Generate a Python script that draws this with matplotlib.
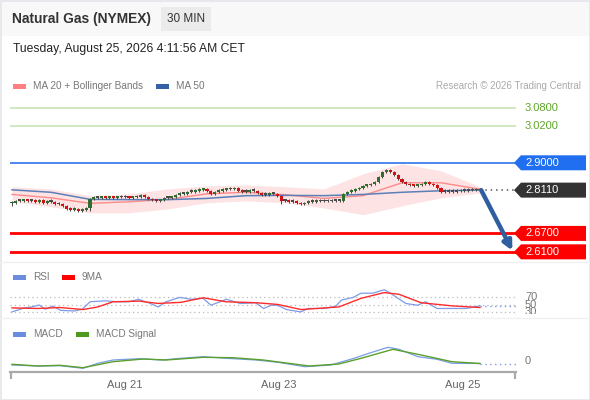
import matplotlib
matplotlib.use('Agg')
import matplotlib.pyplot as plt
import matplotlib.patches as mpatches
from matplotlib.transforms import Bbox, blended_transform_factory

plt.rcParams['font.family'] = ['Liberation Sans', 'DejaVu Sans']

W, H = 590, 400

# ---- price data (30 min candles, closes) ----
closes = [2.770, 2.776, 2.776, 2.778, 2.776, 2.776, 2.773, 2.779, 2.770, 2.773,
          2.773, 2.766, 2.766, 2.760, 2.750, 2.747, 2.750, 2.744, 2.747, 2.753,
          2.783, 2.786, 2.786, 2.788, 2.786, 2.788, 2.786, 2.789, 2.788, 2.789,
          2.786, 2.788, 2.789, 2.796, 2.789, 2.783, 2.779, 2.776, 2.779, 2.786,
          2.786, 2.789, 2.796, 2.799, 2.799, 2.806, 2.806, 2.809, 2.812, 2.815,
          2.809, 2.799, 2.806, 2.809, 2.812, 2.815, 2.815, 2.819, 2.809, 2.806,
          2.806, 2.809, 2.809, 2.802, 2.796, 2.796, 2.799, 2.799, 2.793, 2.776,
          2.776, 2.773, 2.773, 2.770, 2.766, 2.770, 2.773, 2.773, 2.775, 2.775,
          2.776, 2.775, 2.776, 2.776, 2.776, 2.799, 2.806, 2.809, 2.815, 2.819,
          2.825, 2.828, 2.832, 2.838, 2.854, 2.871, 2.877, 2.871, 2.861, 2.848,
          2.838, 2.832, 2.828, 2.825, 2.828, 2.832, 2.835, 2.832, 2.828, 2.819,
          2.806, 2.807, 2.806, 2.806, 2.807, 2.809, 2.809, 2.810, 2.810, 2.812,
          2.811]
first_open = 2.768
long_wicks = {0: 2.760, 69: 2.766, 20: 2.744}

# indicators sampled every 10 candles
ind_idx = [0, 10, 20, 30, 40, 50, 60, 70, 80, 90, 100, 110, 120]
ma20 = [2.797, 2.786, 2.768, 2.773, 2.781, 2.799, 2.804, 2.796, 2.784, 2.793, 2.835, 2.835, 2.814]
ma50 = [2.812, 2.804, 2.781, 2.780, 2.780, 2.784, 2.793, 2.794, 2.793, 2.797, 2.804, 2.809, 2.811]
bb_upper = [2.822, 2.815, 2.793, 2.799, 2.815, 2.825, 2.828, 2.822, 2.815, 2.864, 2.897, 2.874, 2.822]
bb_lower = [2.773, 2.757, 2.737, 2.737, 2.750, 2.770, 2.776, 2.770, 2.753, 2.731, 2.760, 2.786, 2.802]

resistances = [3.08, 3.02]
pivot = 2.90
supports = [2.67, 2.61]
last_price = 2.811

# RSI and its 9 period MA
rsi_idx = [0, 3, 5, 7, 8.5, 10.5, 12.5, 16, 18, 20, 24, 27, 30, 32.5, 35.5, 37.5, 39.5, 43,
           46, 49, 51, 55, 58.5, 62.5, 64.5, 66.5, 68, 70.5, 74, 76, 80, 83, 84.5, 87.5,
           89.5, 92.5, 95.5, 97, 99, 101, 104, 106, 109, 113, 116.5, 120]
rsi_val = [31, 41, 44, 49, 38, 46, 35, 33.5, 38, 57.5, 60, 57.5, 57.5, 64, 53, 44, 57.5, 69,
           64, 66.5, 48.5, 64, 53, 55, 40, 48.5, 48.5, 37, 31, 40, 40, 46, 62, 69,
           80, 80, 89, 80, 66.5, 53, 48.5, 57.5, 40, 40, 40, 47]
rsi_ma_idx = [0, 6.7, 12.3, 18.2, 22, 25.9, 32.6, 37.4, 43.3, 49, 54.9, 62.6, 68.2, 74.1,
              83.8, 89.5, 95.4, 99.2, 104.9, 112.8, 120]
rsi_ma_val = [41.5, 40, 42.5, 37.2, 44, 57.5, 59.3, 53.2, 56, 68, 57.5, 55, 50.5, 37.2,
              44, 66.5, 81.5, 77.2, 55, 46.8, 42.5]

# MACD
macd_idx = [0, 6.7, 12.3, 18.2, 22, 25.9, 32.6, 38.5, 43.3, 49, 54.9, 62.6, 68.2, 75.1,
            81.8, 87.7, 91.5, 96.4, 99.2, 104.1, 109, 112.8, 120]
macd_val = [-0.0040, -0.0050, -0.0047, -0.0073, -0.0023, 0.0010, 0.0023, 0.0010, 0.0027,
            0.0043, 0.0027, 0.0010, -0.0013, -0.0057, -0.0040, 0.0027, 0.0077, 0.0137,
            0.0117, 0.0043, 0.0017, -0.0023, -0.0025]
signal_idx = [0, 6.7, 12.3, 18.2, 25.9, 33.6, 39.5, 49, 56.7, 64.4, 76.2, 83.8, 89.5,
              97.7, 104.9, 112.8, 120]
signal_val = [-0.0033, -0.0050, -0.0043, -0.0067, -0.0007, 0.0020, 0.0010, 0.0037, 0.0033,
              0.0010, -0.0050, -0.0030, 0.0027, 0.0117, 0.0060, -0.0007, -0.0025]

date_ticks = [29.0, 68.5, 115.6]
date_labels = ['Aug 21', 'Aug 23', 'Aug 25']


def box(left, top, right, bottom):
    return [left / W, 1 - bottom / H, (right - left) / W, (bottom - top) / H]


fig = plt.figure(figsize=(W / 100, H / 100), dpi=100)
fig.patch.set_facecolor('white')

x0 = -0.51
x1 = 129.23

# ---------------- main price panel ----------------
ax = fig.add_axes(box(10, 70.8, 516, 262.8))
ax.set_xlim(x0, x1)
ax.set_ylim(2.5743, 3.1997)
ax.axis('off')

ax.fill_between(ind_idx, bb_lower, bb_upper, color='#fde3e3', lw=0, zorder=1)
ax.plot(ind_idx, ma20, color='#ff8a8a', lw=1.0, zorder=2)
ax.plot(ind_idx, ma50, color='#5b7fb8', lw=1.1, zorder=2)

for r in resistances:
    ax.axhline(r, color='#c9e4b6', lw=1.2, zorder=1)
ax.axhline(pivot, color='#2f74ea', lw=1.2, zorder=1)
for s in supports:
    ax.axhline(s, color='#ff0000', lw=2.0, zorder=1)

opens = [first_open] + closes[:-1]
for i, (o, c) in enumerate(zip(opens, closes)):
    lo = min(o, c)
    hi = max(o, c)
    body = max(hi - lo, 0.0045)
    if hi - lo < 0.0015:
        col = '#4a4a4a'
    elif c > o:
        col = '#2f6e2f'
    else:
        col = '#cc1414'
    wick_lo = long_wicks.get(i, lo - 0.003)
    ax.vlines(i, wick_lo, lo + body + 0.003, color='#444444', lw=0.7, zorder=3)
    ax.bar(i, body, bottom=lo, width=0.8, color=col, lw=0, zorder=4)

n_last = len(closes) - 1
ax.plot([n_last, x1], [last_price, last_price], color='#555555', lw=1.1,
        ls=(0, (1, 2.5)), zorder=2, clip_on=False)

ax.annotate('', xy=(128.3, supports[1] + 0.004), xytext=(n_last + 0.3, last_price),
            arrowprops=dict(arrowstyle='-|>', color='#2f5f9f', lw=3.2,
                            mutation_scale=13, shrinkA=0, shrinkB=0),
            zorder=6, annotation_clip=False)

lab_tr = blended_transform_factory(ax.transAxes, ax.transData)
for r in resistances:
    ax.text((525 - 10) / 506, r, '%.4f' % r, transform=lab_tr, color='#5fa62a',
            fontsize=8, va='center', ha='left')

# ---------------- RSI panel ----------------
ax_rsi = fig.add_axes(box(10, 286, 516, 316))
ax_rsi.set_xlim(x0, x1)
ax_rsi.set_ylim(20.3, 98.8)
ax_rsi.axis('off')
for lv in [70, 50, 30]:
    ax_rsi.axhline(lv, color='#bbbbbb', lw=0.9, ls=(0, (1, 2.5)))
ax_rsi.plot(rsi_idx, rsi_val, color='#7b9be8', lw=0.9)
ax_rsi.plot(rsi_ma_idx, rsi_ma_val, color='#ff2a2a', lw=1.0)
ax_rsi.plot([rsi_idx[-1], x1], [rsi_val[-1], rsi_val[-1]], color='#7b9be8', lw=1.0,
            ls=(0, (1, 2.5)), clip_on=False)
clip = Bbox.from_extents(0, H - 313.5, W, H - 262)
rsi_tr = blended_transform_factory(ax_rsi.transAxes, ax_rsi.transData)
for lv in [70, 50, 30]:
    t = ax_rsi.text((525 - 10) / 506, lv, str(lv), transform=rsi_tr, color='#777777',
                    fontsize=8, va='center', ha='left')
    t.set_clip_box(clip)
    t.set_clip_on(True)

# ---------------- MACD panel ----------------
ax_m = fig.add_axes(box(10, 340, 516, 372))
ax_m.set_xlim(x0, x1)
ax_m.set_ylim(-0.011, 0.021)
for sp in ['top', 'left', 'right']:
    ax_m.spines[sp].set_visible(False)
ax_m.spines['bottom'].set_color('#aaaaaa')
ax_m.spines['bottom'].set_linewidth(1.6)
ax_m.set_yticks([])
ax_m.set_xticks(date_ticks)
ax_m.set_xticklabels(date_labels)
ax_m.set_xticks([x0 + 0.3, x1 - 0.3], minor=True)
ax_m.tick_params(axis='x', which='major', length=0, pad=6, labelsize=8, labelcolor='#666666')
ax_m.tick_params(axis='x', which='minor', length=5, width=1.6, color='#aaaaaa')
ax_m.patch.set_visible(False)
ax_m.plot(macd_idx, macd_val, color='#7b9be8', lw=0.9)
ax_m.plot(signal_idx, signal_val, color='#5aa02c', lw=1.0)
ax_m.plot([macd_idx[-1], x1], [macd_val[-1], macd_val[-1]], color='#7b9be8', lw=1.0,
          ls=(0, (1, 2.5)), clip_on=False)
m_tr = blended_transform_factory(ax_m.transAxes, ax_m.transData)
ax_m.text((525 - 10) / 506, 0, '0', transform=m_tr, color='#777777', fontsize=8,
          va='center', ha='left')

# ---------------- overlay: header, legends, tags ----------------
ov = fig.add_axes([0, 0, 1, 1], zorder=-1)
ov.set_xlim(0, W)
ov.set_ylim(0, H)
ov.axis('off')
ov.add_patch(mpatches.Rectangle((0, H - 36), W, 36, color='#f8f8f8', lw=0))
ov.add_patch(mpatches.Rectangle((0.5, 0.5), W - 1, H - 1, fill=False, ec='#e3e5e9', lw=1.2))
ov.plot([0, W], [H - 262, H - 262], color='#f0f0f0', lw=1)
ov.plot([0, W], [H - 318, H - 318], color='#f0f0f0', lw=1)

top = fig.add_axes([0, 0, 1, 1], zorder=10)
top.set_xlim(0, W)
top.set_ylim(0, H)
top.axis('off')

top.text(12, H - 19.5, 'Natural Gas (NYMEX)', fontsize=9.9, fontweight='bold',
         color='#333333', va='center', ha='left')
top.add_patch(mpatches.Rectangle((161, H - 31), 50, 24, color='#ebebeb', lw=0))
top.text(186, H - 19.5, '30 MIN', fontsize=8.5, color='#333333', va='center', ha='center')
top.text(13, H - 49, 'Tuesday, August 25, 2026 4:11:56 AM CET', fontsize=8.7,
         color='#222222', va='center', ha='left')


def legend_item(x, y, color, label):
    top.add_patch(mpatches.Rectangle((x, H - y - 2.5), 13, 5, color=color, lw=0))
    top.text(x + 20, H - y, label, fontsize=7.2, color='#777777', va='center', ha='left')


legend_item(13, 86, '#ff8080', 'MA 20 + Bollinger Bands')
legend_item(156, 86, '#3562a5', 'MA 50')
top.text(581, H - 86, 'Research \u00a9 2026 Trading Central', fontsize=7,
         color='#aaaaaa', va='center', ha='right')
legend_item(13, 277, '#6a8de0', 'RSI')
legend_item(62, 277, '#ff0000', '9MA')
legend_item(13, 334, '#6a8de0', 'MACD')
legend_item(76, 334, '#4d9a1f', 'MACD Signal')


def price_tag(price, text, color):
    y = ax.transData.transform((0, price))[1]
    pts = [(514, y), (521, y + 7.5), (586, y + 7.5), (586, y - 7.5), (521, y - 7.5)]
    top.add_patch(mpatches.Polygon(pts, closed=True, color=color, lw=0))
    top.text(525, y, text, fontsize=8, color='white', va='center', ha='left')


price_tag(pivot, '%.4f' % pivot, '#1f6ff0')
price_tag(last_price, '%.4f' % last_price, '#333333')
for s in supports:
    price_tag(s, '%.4f' % s, '#ff0000')

fig.savefig('out.png', dpi=100)
